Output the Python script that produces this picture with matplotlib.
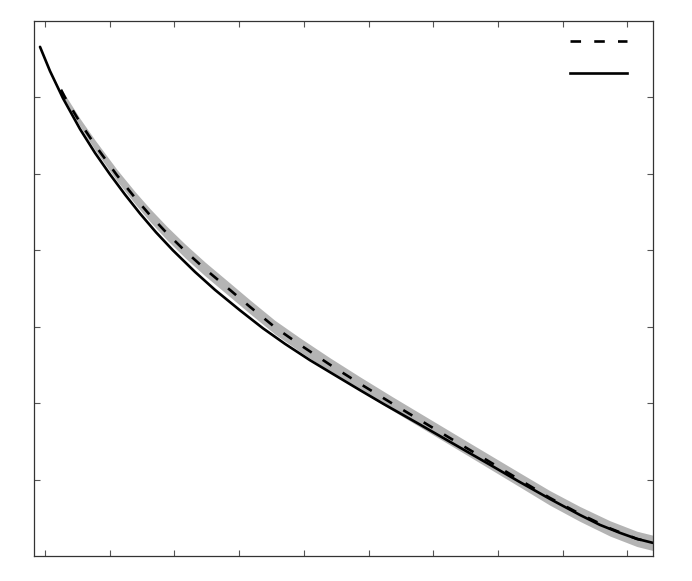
import matplotlib
matplotlib.use("Agg")
import matplotlib.pyplot as plt
from matplotlib.lines import Line2D
import numpy as np

# Solid curve
solid_x = [0.923, 1.077, 1.278, 1.541, 1.773, 2.004, 2.236, 2.468, 2.715, 2.978,
           3.318, 3.627, 4.013, 4.368, 4.708, 5.095, 5.481, 5.867, 6.222, 6.794,
           7.412, 7.876, 8.308, 8.803, 9.266, 9.575, 9.884, 10.147, 10.394]
solid_y = [6.658, 6.342, 5.986, 5.584, 5.272, 4.992, 4.728, 4.480, 4.235, 3.998,
           3.717, 3.482, 3.215, 2.980, 2.777, 2.563, 2.367, 2.172, 1.996, 1.722,
           1.422, 1.197, 0.985, 0.750, 0.541, 0.411, 0.307, 0.228, 0.176]

# Dashed curve (mean) and band half-width
dash_x = [1.247, 1.309, 1.541, 1.773, 2.112, 2.391, 2.622, 2.885, 3.163, 3.472,
          3.828, 4.167, 4.554, 4.940, 5.404, 5.867, 6.362, 6.949, 7.567, 8.339,
          8.803, 9.266, 9.730, 10.147, 10.394]
dash_y = [6.098, 5.997, 5.671, 5.375, 4.980, 4.686, 4.459, 4.222, 3.992, 3.756,
          3.503, 3.261, 2.993, 2.765, 2.504, 2.256, 1.999, 1.702, 1.389, 0.998,
          0.763, 0.554, 0.365, 0.228, 0.176]
band_half = [0.025, 0.035, 0.05, 0.065, 0.075, 0.08, 0.085, 0.088, 0.09, 0.09,
             0.09, 0.09, 0.09, 0.09, 0.09, 0.09, 0.09, 0.09, 0.09, 0.092,
             0.095, 0.097, 0.1, 0.1, 0.1]

x_ticks = [1, 2, 3, 4, 5, 6, 7, 8, 9, 10]
y_ticks = [1, 2, 3, 4, 5, 6]

fig = plt.figure(figsize=(6.92, 5.81), dpi=100)
ax = fig.add_axes([0.0496, 0.0425, 0.8944, 0.9219])

dy = np.array(dash_y)
bh = np.array(band_half)
ax.fill_between(dash_x, dy - bh, dy + bh, color="#b4b4b4", linewidth=0, zorder=1)
ax.plot(solid_x, solid_y, color="black", linewidth=1.9, solid_capstyle="round",
        solid_joinstyle="round", zorder=2)
ax.plot(dash_x, dash_y, color="black", linewidth=1.9, dashes=(4.0, 5.0), zorder=3)

ax.set_xlim(0.835, 10.40)
ax.set_ylim(0, 7)
ax.set_xticks(x_ticks)
ax.set_yticks(y_ticks)
ax.tick_params(direction="in", length=4.3, width=0.8, color="#555555",
               top=True, right=True, labelbottom=False, labelleft=False)
for s in ax.spines.values():
    s.set_color("#333333")
    s.set_linewidth(0.9)

handles = [Line2D([], [], color="black", linewidth=1.9, dashes=(4.0, 5.0)),
           Line2D([], [], color="black", linewidth=1.9)]
ax.legend(handles, [" ", " "], loc="upper right", frameon=False,
          bbox_to_anchor=(1 - 5 / 619, 1 - 2 / 536),
          handlelength=4.1, handletextpad=0.3, labelspacing=1.29,
          borderaxespad=0.5, fontsize=10)

fig.savefig("out.png", dpi=100)
